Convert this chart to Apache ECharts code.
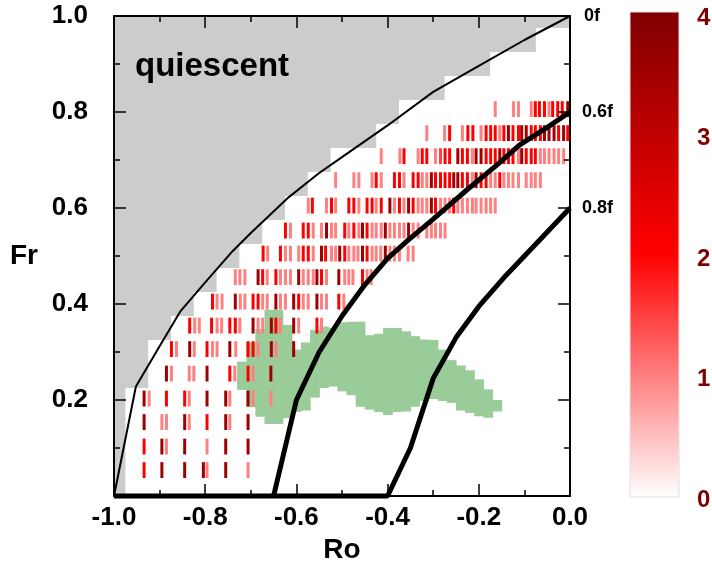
<!DOCTYPE html>
<html>
<head>
<meta charset="utf-8">
<script src="https://cdn.jsdelivr.net/npm/echarts@6/dist/echarts.min.js"></script>
<style>
html, body { margin: 0; padding: 0; background: #ffffff; }
#chart { width: 712px; height: 562px; }
</style>
</head>
<body>
<div id="chart"></div>
<script>
// Regime diagram: Froude number (Fr) against Rossby number (Ro)

const roTickLabels = [-1.0, -0.8, -0.6, -0.4, -0.2, 0.0];
const frTickLabels = [0.2, 0.4, 0.6, 0.8, 1.0];
const scaleTickLabels = [0, 1, 2, 3, 4];

// Quiescent region: lower Fr of each step and the Ro where the step ends
const quietStepFr = [0, 0.225, 0.325, 0.375, 0.425, 0.475, 0.525, 0.575, 0.625, 0.675, 0.725, 0.775, 0.825, 0.875, 0.925, 0.975];
const quietStepRo = [-0.975, -0.925, -0.875, -0.825, -0.775, -0.725, -0.675, -0.625, -0.575, -0.525, -0.425, -0.375, -0.275, -0.175, -0.075, 0.0];

// Boundary curves, [Ro, Fr]
const curve0f = [[-1.0, 0.0], [-0.952, 0.228], [-0.90, 0.312], [-0.855, 0.384], [-0.80, 0.445], [-0.74, 0.510],
  [-0.70, 0.548], [-0.62, 0.620], [-0.55, 0.673], [-0.50, 0.706], [-0.40, 0.772], [-0.30, 0.842],
  [-0.20, 0.896], [-0.10, 0.950], [0.0, 1.0]];
const curve06f = [[-0.65, 0.0], [-0.60, 0.20], [-0.55, 0.30], [-0.50, 0.375], [-0.45, 0.440], [-0.40, 0.495],
  [-0.355, 0.533], [-0.30, 0.577], [-0.227, 0.637], [-0.16, 0.690], [-0.111, 0.731], [-0.05, 0.768], [0.0, 0.80]];
const curve08f = [[-1.0, 0.0], [-0.40, 0.0], [-0.35, 0.10], [-0.30, 0.245], [-0.25, 0.330], [-0.20, 0.395],
  [-0.14, 0.460], [-0.067, 0.533], [0.0, 0.60]];

// Green patch: column centre Ro, bottom Fr, top Fr
const patchRo = [-0.72, -0.70, -0.68, -0.66, -0.64, -0.62, -0.60, -0.58, -0.56, -0.54, -0.52, -0.50, -0.48, -0.46, -0.44,
  -0.42, -0.40, -0.38, -0.36, -0.34, -0.32, -0.30, -0.28, -0.26, -0.24, -0.22, -0.20, -0.18, -0.16];
const patchLo = [0.221, 0.185, 0.165, 0.150, 0.150, 0.162, 0.175, 0.178, 0.205, 0.225, 0.228, 0.218, 0.210, 0.186, 0.180,
  0.175, 0.169, 0.175, 0.176, 0.186, 0.198, 0.202, 0.198, 0.194, 0.178, 0.173, 0.166, 0.163, 0.176];
const patchHi = [0.280, 0.320, 0.348, 0.388, 0.388, 0.356, 0.305, 0.320, 0.346, 0.353, 0.350, 0.362, 0.363, 0.363, 0.335,
  0.338, 0.350, 0.350, 0.343, 0.333, 0.326, 0.325, 0.305, 0.283, 0.272, 0.262, 0.243, 0.222, 0.200];

// Fr level of each row of dashes
const rowFr = [0.054, 0.103, 0.154, 0.203, 0.255, 0.306, 0.355, 0.405, 0.456, 0.505, 0.553, 0.605, 0.658, 0.708, 0.756, 0.806];

// Dashes in each row: [Ro, amplitude]
const dashes05 = [[-0.934, 2], [-0.895, 3.5], [-0.845, 3.5], [-0.804, 3.5], [-0.796, 1], [-0.755, 3.5], [-0.706, 1]];
const dashes10 = [[-0.934, 2], [-0.895, 3.5], [-0.885, 1], [-0.845, 3.5], [-0.796, 1], [-0.755, 3.5], [-0.706, 3.5]];
const dashes15 = [[-0.934, 3.5], [-0.895, 1], [-0.885, 1], [-0.845, 3.5], [-0.835, 1], [-0.796, 2], [-0.755, 3.5], [-0.746, 1], [-0.706, 3.5]];
const dashes20 = [[-0.934, 3.5], [-0.923, 1], [-0.885, 2], [-0.845, 2], [-0.835, 1], [-0.796, 3.5], [-0.755, 3.5], [-0.746, 1],
  [-0.706, 3.5], [-0.695, 1], [-0.656, 1]];
const dashes25 = [[-0.885, 3.5], [-0.874, 1], [-0.835, 1], [-0.825, 1], [-0.796, 3.5], [-0.746, 2], [-0.735, 1], [-0.706, 2],
  [-0.695, 1], [-0.656, 3.5]];
const dashes30 = [[-0.874, 2], [-0.863, 1], [-0.834, 3.5], [-0.824, 1], [-0.796, 2], [-0.784, 1], [-0.774, 1], [-0.746, 3.5],
  [-0.733, 1], [-0.706, 2], [-0.695, 2], [-0.684, 1], [-0.655, 3.5], [-0.645, 1], [-0.606, 3.5]];
const dashes35 = [[-0.834, 2], [-0.823, 1], [-0.813, 1], [-0.786, 2], [-0.774, 1], [-0.764, 1], [-0.746, 2], [-0.734, 2],
  [-0.724, 1], [-0.695, 3.5], [-0.684, 1], [-0.674, 1], [-0.655, 3.5], [-0.645, 2], [-0.635, 1], [-0.606, 3.5], [-0.595, 1],
  [-0.555, 2], [-0.545, 1]];
const dashes40 = [[-0.784, 2], [-0.774, 1], [-0.763, 1], [-0.734, 3.5], [-0.723, 1], [-0.713, 1], [-0.695, 2], [-0.684, 2],
  [-0.674, 1], [-0.664, 1], [-0.645, 3.5], [-0.635, 1], [-0.624, 1], [-0.606, 3.5], [-0.595, 2], [-0.585, 1], [-0.574, 1],
  [-0.555, 3.5], [-0.545, 1], [-0.534, 1], [-0.507, 2], [-0.496, 1]];
const dashes45 = [[-0.734, 1], [-0.724, 1], [-0.713, 1], [-0.684, 3.5], [-0.674, 2], [-0.664, 1], [-0.645, 2], [-0.635, 1],
  [-0.624, 1], [-0.613, 1], [-0.595, 3.5], [-0.585, 1], [-0.574, 1], [-0.563, 1], [-0.555, 3.5], [-0.545, 2], [-0.534, 1],
  [-0.507, 3.5], [-0.494, 1], [-0.485, 1], [-0.476, 1], [-0.455, 2], [-0.445, 1], [-0.436, 1]];
const dashes50 = [[-0.673, 2], [-0.663, 1], [-0.635, 2], [-0.624, 1], [-0.613, 1], [-0.595, 1], [-0.585, 2], [-0.574, 2],
  [-0.563, 1], [-0.545, 3.5], [-0.536, 2], [-0.523, 1], [-0.514, 1], [-0.505, 3.5], [-0.494, 2], [-0.485, 1], [-0.474, 1],
  [-0.465, 1], [-0.455, 3.5], [-0.445, 2], [-0.434, 1], [-0.425, 1], [-0.415, 1], [-0.405, 3.5], [-0.395, 1], [-0.385, 1],
  [-0.374, 1], [-0.355, 1], [-0.344, 1]];
const dashes55 = [[-0.624, 2], [-0.613, 1], [-0.585, 2], [-0.574, 2], [-0.563, 1], [-0.545, 1], [-0.534, 3.5], [-0.523, 1],
  [-0.514, 1], [-0.494, 2], [-0.485, 1], [-0.474, 2], [-0.463, 1], [-0.455, 3.5], [-0.445, 2], [-0.434, 1], [-0.425, 1],
  [-0.414, 1], [-0.405, 3.5], [-0.395, 1], [-0.385, 1], [-0.374, 1], [-0.364, 1], [-0.354, 3.5], [-0.344, 1], [-0.333, 1],
  [-0.314, 1], [-0.304, 1], [-0.295, 1], [-0.284, 1], [-0.274, 1]];
const dashes60 = [[-0.574, 1], [-0.565, 2], [-0.534, 1], [-0.523, 2], [-0.514, 1], [-0.485, 2], [-0.474, 2], [-0.463, 1],
  [-0.445, 2], [-0.434, 2], [-0.425, 1], [-0.414, 2], [-0.395, 3.5], [-0.385, 1], [-0.374, 2], [-0.364, 1], [-0.354, 3.5],
  [-0.344, 2], [-0.333, 1], [-0.324, 1], [-0.314, 1], [-0.304, 3.5], [-0.295, 2], [-0.284, 1], [-0.274, 1], [-0.264, 1],
  [-0.255, 2], [-0.246, 1], [-0.236, 1], [-0.225, 1], [-0.214, 1], [-0.206, 1], [-0.195, 1], [-0.184, 1], [-0.174, 1],
  [-0.164, 1]];
const dashes65 = [[-0.514, 1], [-0.474, 1], [-0.463, 1], [-0.434, 1], [-0.425, 2], [-0.414, 1], [-0.385, 2], [-0.374, 2],
  [-0.364, 1], [-0.344, 2], [-0.333, 2], [-0.324, 1], [-0.314, 1], [-0.304, 3.5], [-0.295, 2], [-0.284, 2], [-0.274, 2],
  [-0.264, 2], [-0.255, 3.5], [-0.246, 3.5], [-0.236, 2], [-0.225, 2], [-0.214, 1], [-0.206, 3.5], [-0.195, 2], [-0.184, 2],
  [-0.174, 1], [-0.164, 1], [-0.154, 2], [-0.145, 1], [-0.135, 1], [-0.125, 1], [-0.113, 1], [-0.096, 1], [-0.085, 1],
  [-0.076, 1], [-0.065, 1]];
const dashes70 = [[-0.414, 1], [-0.373, 1], [-0.364, 2], [-0.333, 1], [-0.324, 2], [-0.314, 2], [-0.295, 1], [-0.284, 1.5],
  [-0.274, 2], [-0.264, 2], [-0.246, 3.5], [-0.236, 2], [-0.225, 2], [-0.214, 1], [-0.206, 3.5], [-0.195, 3.5], [-0.184, 2],
  [-0.174, 2], [-0.164, 2], [-0.154, 3.5], [-0.145, 2], [-0.135, 2], [-0.125, 2], [-0.113, 1], [-0.106, 3.5], [-0.096, 2],
  [-0.085, 2], [-0.076, 2], [-0.065, 1], [-0.056, 1], [-0.046, 1], [-0.035, 1], [-0.025, 1], [-0.014, 1]];
const dashes75 = [[-0.314, 1], [-0.275, 1], [-0.264, 2], [-0.236, 1], [-0.224, 2], [-0.213, 2], [-0.195, 1], [-0.184, 2],
  [-0.174, 2], [-0.164, 2], [-0.154, 1], [-0.145, 2], [-0.135, 3.5], [-0.125, 2], [-0.113, 2], [-0.106, 3.5], [-0.096, 3.5],
  [-0.085, 2], [-0.076, 2], [-0.065, 2], [-0.056, 3.5], [-0.046, 3.5], [-0.035, 3.5], [-0.025, 2], [-0.014, 3.5], [-0.005, 2]];
const dashes80 = [[-0.164, 1], [-0.124, 1], [-0.113, 1], [-0.085, 1], [-0.076, 2], [-0.067, 2], [-0.056, 2], [-0.046, 1],
  [-0.038, 2], [-0.027, 2], [-0.017, 2], [-0.005, 3.5]];

const dashRows = [dashes05, dashes10, dashes15, dashes20, dashes25, dashes30, dashes35, dashes40,
  dashes45, dashes50, dashes55, dashes60, dashes65, dashes70, dashes75, dashes80];

// Flatten rows into [Ro, Fr, amplitude] records
const dashData = [];
dashRows.forEach(function (row, i) {
  row.forEach(function (d) { dashData.push([d[0], rowFr[i], d[1]]); });
});
const patchData = patchRo.map(function (ro, i) { return [ro, patchLo[i], patchHi[i]]; });

const FONT = "'Liberation Sans', Arial, Helvetica, sans-serif";
const DASH_SPAN = 0.033;   // Fr extent of one dash
const PATCH_WIDTH = 0.02;  // Ro width of one patch column

function tickText(list) {
  return function (v) {
    for (let i = 0; i < list.length; i++) {
      if (Math.abs(list[i] - v) < 1e-9) return Number(list[i]).toFixed(1);
    }
    return '';
  };
}

const axisLineStyle = { color: '#000', width: 2 };
const frameX = {
  type: 'value', min: -1, max: 0, interval: 0.2, gridIndex: 0, z: 5,
  axisLine: { show: true, onZero: false, lineStyle: axisLineStyle },
  axisTick: { show: true, inside: true, length: 12, lineStyle: { color: '#000', width: 1.5 } },
  minorTick: { show: true, splitNumber: 2, length: 6, lineStyle: { color: '#000', width: 1.5 } },
  splitLine: { show: false }, minorSplitLine: { show: false }
};
const frameY = {
  type: 'value', min: 0, max: 1, interval: 0.2, gridIndex: 0, z: 5,
  axisLine: { show: true, onZero: false, lineStyle: axisLineStyle },
  axisTick: { show: true, inside: true, length: 12, lineStyle: { color: '#000', width: 1.5 } },
  minorTick: { show: true, splitNumber: 2, length: 6, lineStyle: { color: '#000', width: 1.5 } },
  splitLine: { show: false }, minorSplitLine: { show: false }
};

const labelStyle = { fontFamily: FONT, fontSize: 26, fontWeight: 'bold', color: '#000' };

const option = {
  animation: false,
  backgroundColor: '#ffffff',
  textStyle: { fontFamily: FONT },
  grid: [
    { left: 114, top: 16, width: 456, height: 480, outerBoundsMode: 'none', containLabel: false },
    { left: 630, top: 18, width: 49, height: 482, outerBoundsMode: 'none', containLabel: false }
  ],
  xAxis: [
    Object.assign({}, frameX, {
      position: 'bottom',
      axisLabel: Object.assign({}, labelStyle, { margin: 9, formatter: tickText(roTickLabels) }),
      name: 'Ro', nameLocation: 'middle', nameGap: 36,
      nameTextStyle: { fontFamily: FONT, fontSize: 28, fontWeight: 'bold', color: '#000' }
    }),
    Object.assign({}, frameX, { position: 'top', axisLabel: { show: false } }),
    { type: 'value', gridIndex: 1, min: 0, max: 1, show: false }
  ],
  yAxis: [
    Object.assign({}, frameY, {
      position: 'left',
      axisLabel: Object.assign({}, labelStyle, { margin: 26, formatter: tickText(frTickLabels) }),
      name: 'Fr', nameLocation: 'middle', nameGap: 76, nameRotate: 0,
      nameTextStyle: { fontFamily: FONT, fontSize: 28, fontWeight: 'bold', color: '#000' }
    }),
    Object.assign({}, frameY, { position: 'right', axisLabel: { show: false } }),
    {
      type: 'value', gridIndex: 1, min: 0, max: 4, interval: 1, position: 'right',
      axisLine: { show: false }, axisTick: { show: false }, splitLine: { show: false },
      axisLabel: {
        margin: 18, fontFamily: FONT, fontSize: 24, fontWeight: 'bold', color: '#800000',
        formatter: function (v) { return scaleTickLabels.indexOf(v) >= 0 ? String(v) : ''; }
      }
    }
  ],
  visualMap: {
    show: false, type: 'continuous', min: 0, max: 4, dimension: 2, seriesIndex: 2,
    inRange: { color: ['#ffffff', '#ff0000', '#800000'] }
  },
  graphic: [
    {
      type: 'text', left: 135, top: 50, z: 20,
      style: { text: 'quiescent', fontFamily: FONT, fontSize: 33, fontWeight: 'bold', fill: '#000' }
    }
  ],
  series: [
    {
      // quiescent region as a staircase polygon
      type: 'custom', xAxisIndex: 0, yAxisIndex: 0, z: 1, silent: true,
      data: [[quietStepRo[0], quietStepFr[0]]],
      renderItem: function (params, api) {
        const pts = [api.coord([-1, 0])];
        for (let i = 0; i < quietStepRo.length; i++) {
          pts.push(api.coord([quietStepRo[i], quietStepFr[i]]));
          const nextFr = i + 1 < quietStepFr.length ? quietStepFr[i + 1] : 1;
          pts.push(api.coord([quietStepRo[i], nextFr]));
        }
        pts.push(api.coord([-1, 1]));
        return { type: 'polygon', shape: { points: pts }, style: { fill: '#cccccc' } };
      }
    },
    {
      // green patch, one rectangle per Ro column
      type: 'custom', xAxisIndex: 0, yAxisIndex: 0, z: 2, silent: true,
      data: patchData,
      renderItem: function (params, api) {
        const lo = api.coord([api.value(0) - PATCH_WIDTH / 2, api.value(1)]);
        const hi = api.coord([api.value(0) + PATCH_WIDTH / 2, api.value(2)]);
        return {
          type: 'rect',
          shape: { x: lo[0], y: hi[1], width: hi[0] - lo[0] + 0.6, height: lo[1] - hi[1] },
          style: { fill: '#99cc99' }
        };
      }
    },
    {
      // vertical dashes coloured by amplitude
      type: 'custom', xAxisIndex: 0, yAxisIndex: 0, z: 3, silent: true,
      data: dashData,
      encode: { x: 0, y: 1 },
      renderItem: function (params, api) {
        const p = api.coord([api.value(0), api.value(1)]);
        const h = api.size([0, DASH_SPAN])[1];
        return {
          type: 'rect',
          shape: { x: p[0] - 1.5, y: p[1] - h / 2, width: 3, height: h },
          style: { fill: api.visual('color') }
        };
      }
    },
    {
      name: '0f', type: 'line', xAxisIndex: 0, yAxisIndex: 0, z: 6, data: curve0f,
      showSymbol: false, symbol: 'none', clip: false,
      lineStyle: { color: '#000', width: 2 },
      endLabel: { show: true, formatter: '{a}', distance: 14, fontFamily: FONT, fontSize: 18, fontWeight: 'bold', color: '#000' }
    },
    {
      name: '0.6f', type: 'line', xAxisIndex: 0, yAxisIndex: 0, z: 6, data: curve06f,
      showSymbol: false, symbol: 'none', clip: false,
      lineStyle: { color: '#000', width: 5 },
      endLabel: { show: true, formatter: '{a}', distance: 12, fontFamily: FONT, fontSize: 18, fontWeight: 'bold', color: '#000' }
    },
    {
      name: '0.8f', type: 'line', xAxisIndex: 0, yAxisIndex: 0, z: 6, data: curve08f,
      showSymbol: false, symbol: 'none', clip: false,
      lineStyle: { color: '#000', width: 5 },
      endLabel: { show: true, formatter: '{a}', distance: 12, fontFamily: FONT, fontSize: 18, fontWeight: 'bold', color: '#000' }
    },
    {
      // colour scale bar
      type: 'custom', xAxisIndex: 2, yAxisIndex: 2, z: 2, silent: true,
      data: [[0, scaleTickLabels[scaleTickLabels.length - 1]]],
      renderItem: function (params, api) {
        const topLeft = api.coord([0, scaleTickLabels[scaleTickLabels.length - 1]]);
        const bottomRight = api.coord([1, scaleTickLabels[0]]);
        return {
          type: 'rect',
          shape: { x: topLeft[0], y: topLeft[1] - 6, width: bottomRight[0] - topLeft[0], height: bottomRight[1] - topLeft[1] + 3 },
          style: {
            fill: new echarts.graphic.LinearGradient(0, 1, 0, 0, [
              { offset: 0, color: '#ffffff' },
              { offset: 0.5, color: '#ff0000' },
              { offset: 1, color: '#800000' }
            ]),
            stroke: '#e2e2e2', lineWidth: 1
          }
        };
      }
    }
  ]
};

const chart = echarts.init(document.getElementById('chart'), null, { renderer: 'canvas' });
chart.setOption(option);
</script>
</body>
</html>
